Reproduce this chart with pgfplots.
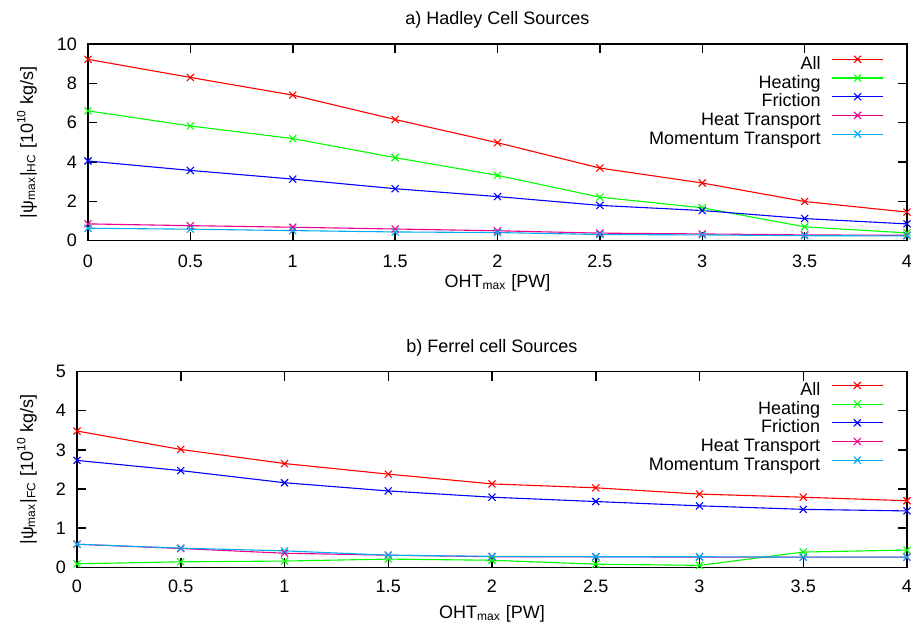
\documentclass[border=0pt]{standalone}
\usepackage{fontspec}
\setmainfont{Liberation Sans}
\usepackage{pgfplots}
\usepackage{pgfplotstable}
\pgfplotsset{compat=1.18}

\newcommand{\fsz}{\fontsize{9}{10.5}\selectfont}

% x = OHT_max [PW]; columns: All, Heating, Friction, Heat Transport, Momentum Transport
\pgfplotstableread{
x    all   heat  fric  ht    mt
0    9.22  6.60  4.05  0.85  0.63
0.5  8.30  5.83  3.57  0.76  0.58
1    7.40  5.19  3.13  0.68  0.51
1.5  6.16  4.22  2.64  0.59  0.44
2    4.98  3.32  2.24  0.50  0.41
2.5  3.69  2.21  1.79  0.38  0.31
3    2.93  1.67  1.53  0.34  0.29
3.5  1.99  0.70  1.12  0.29  0.25
4    1.45  0.39  0.85  0.27  0.24
}\hadley

\pgfplotstableread{
x    all   heat  fric  ht    mt
0    3.48  0.09  2.73  0.59  0.59
0.5  3.01  0.14  2.47  0.48  0.49
1    2.65  0.16  2.16  0.36  0.42
1.5  2.38  0.21  1.95  0.31  0.31
2    2.13  0.18  1.79  0.27  0.28
2.5  2.03  0.08  1.68  0.27  0.27
3    1.87  0.05  1.57  0.26  0.27
3.5  1.79  0.39  1.48  0.26  0.26
4    1.70  0.44  1.44  0.26  0.26
}\ferrel

\pgfplotsset{
  gp/.style={
    scale only axis,
    xmin=0, xmax=4,
    xtick={0,0.5,1,1.5,2,2.5,3,3.5,4},
    tick align=inside,
    major tick length=4.5pt,
    axis line style={line width=0.75pt},
    every tick/.style={black, line width=0.75pt},
    tick label style={font=\fsz},
    /pgf/number format/assume math mode=true,
    label style={font=\fsz},
    title style={font=\fsz, at={(0.5,1)}, anchor=base, yshift=3.7pt},
    xlabel={OHT\textsubscript{max} [PW]},
    yticklabel style={xshift=-2pt},
    legend plot pos=right,
    legend cell align=right,
    legend style={draw=none, fill=none, font=\fsz, anchor=north east,
      inner sep=0pt, column sep=5.5pt,
      nodes={inner sep=0pt, text height=6.6pt, text depth=2.55pt}},
    legend image code/.code={
      \draw[mark repeat=2, mark phase=2, yshift=3pt]
        plot coordinates {(0pt,0pt) (12.75pt,0pt) (25.5pt,0pt)};},
    every axis plot/.append style={line width=0.55pt, mark=x, mark size=2.5pt},
    cycle list={{red},{green},{blue},{magenta},{cyan}},
  }
}

\begin{document}
\begin{tikzpicture}
\useasboundingbox (0,0) rectangle (455.5pt,-311.5pt);

\begin{axis}[gp,
  at={(44pt,-22pt)}, anchor=north west,
  width=409.5pt, height=98.3pt,
  ymin=0, ymax=10, ytick={0,2,4,6,8,10},
  xticklabel style={yshift=-3.5pt},
  title={a) Hadley Cell Sources},
  xlabel style={at={(0.5,0)}, anchor=base, yshift=-23.2pt},
  ylabel={|ψ\textsubscript{max}|\textsubscript{HC} [10\textsuperscript{10} kg/s]},
  ylabel style={at={(axis description cs:-0.0745,0.5)}, anchor=center},
  legend style={at={(0.972,0.942)}},
]
\addplot table[x=x, y=all]  {\hadley};
\addplot table[x=x, y=heat] {\hadley};
\addplot table[x=x, y=fric] {\hadley};
\addplot table[x=x, y=ht]   {\hadley};
\addplot table[x=x, y=mt]   {\hadley};
\legend{All, Heating, Friction, Heat Transport, Momentum Transport}
\end{axis}

\begin{axis}[gp,
  at={(38.5pt,-185.75pt)}, anchor=north west,
  width=415pt, height=97.9pt,
  ymin=0, ymax=5, ytick={0,1,2,3,4,5},
  xticklabel style={yshift=-3pt},
  title={b) Ferrel cell Sources},
  xlabel style={at={(0.5,0)}, anchor=base, yshift=-25.5pt},
  ylabel={|ψ\textsubscript{max}|\textsubscript{FC} [10\textsuperscript{10} kg/s]},
  ylabel style={at={(axis description cs:-0.0602,0.5)}, anchor=center},
  legend style={at={(0.972,0.949)}},
]
\addplot table[x=x, y=all]  {\ferrel};
\addplot table[x=x, y=heat] {\ferrel};
\addplot table[x=x, y=fric] {\ferrel};
\addplot table[x=x, y=ht]   {\ferrel};
\addplot table[x=x, y=mt]   {\ferrel};
\legend{All, Heating, Friction, Heat Transport, Momentum Transport}
\end{axis}
\end{tikzpicture}
\end{document}
